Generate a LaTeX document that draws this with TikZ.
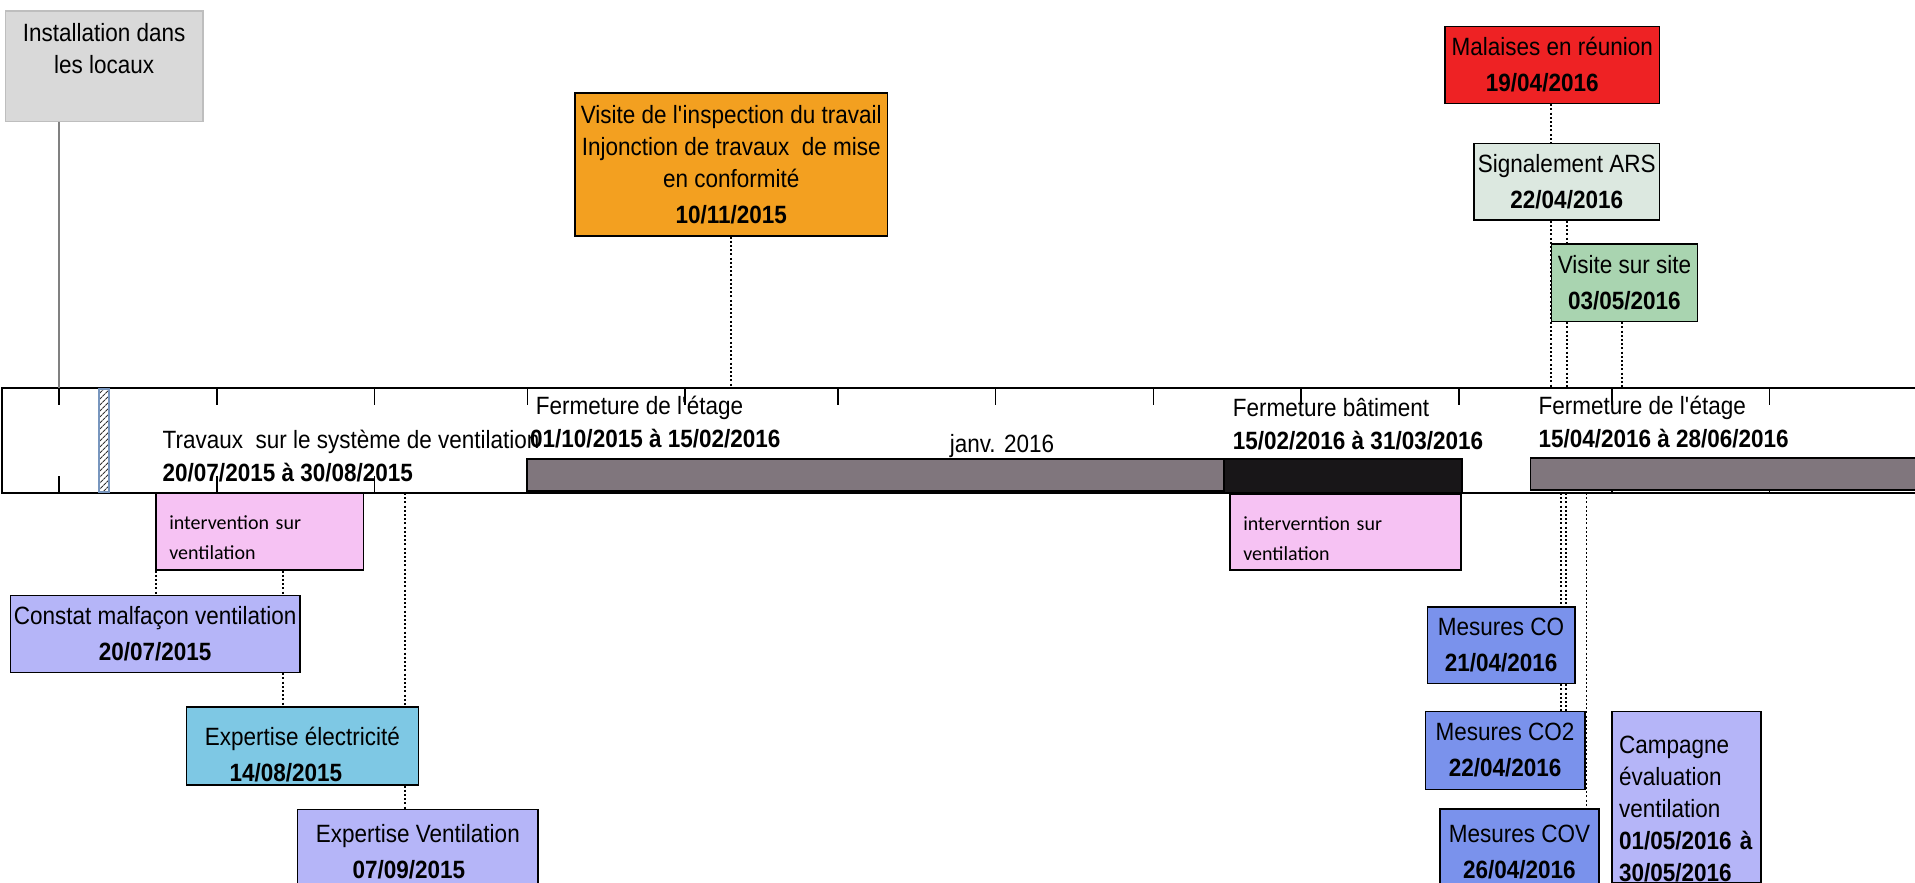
\documentclass[tikz,border=0pt]{standalone}
\usepackage{fontspec}
\setmainfont[FakeStretch=0.9]{Liberation Sans}
\newfontfamily\calib{Carlito}
\usetikzlibrary{patterns.meta}
\definecolor{grisbox}{RGB}{217,217,217}
\definecolor{grisbord}{RGB}{190,190,190}
\definecolor{orange}{RGB}{243,160,32}
\definecolor{rouge}{RGB}{238,34,36}
\definecolor{ars}{RGB}{220,232,224}
\definecolor{vert}{RGB}{169,212,176}
\definecolor{rose}{RGB}{246,194,243}
\definecolor{lavande}{RGB}{181,181,248}
\definecolor{bleuciel}{RGB}{126,200,228}
\definecolor{mesure}{RGB}{122,146,236}
\definecolor{barre}{RGB}{128,118,125}
\definecolor{barnoire}{RGB}{24,22,24}
\definecolor{hachure}{RGB}{120,150,190}
\begin{document}
\begin{tikzpicture}[x=1pt, y=-1pt,
  every node/.style={font={\fontsize{25}{32}\selectfont}, inner sep=0pt},
  evt/.style={draw=black, line width=1.5pt, anchor=north west, align=center,
    execute at begin node={\rule{0pt}{27pt}}},
  pinkbox/.style={evt, fill=rose, align=left, inner xsep=13.5pt,
    font={\calib\fontsize{20}{30}\selectfont}},
  conn/.style={line width=1.6pt, dash pattern=on 2pt off 2.2pt},
  tick/.style={line width=1.5pt},
  bar/.style={draw=black, line width=1.5pt, fill=barre},
  lbl/.style={anchor=base west}]
\useasboundingbox (0,0) rectangle (1915,883);
\clip (0,0) rectangle (1915,883);

\draw[line width=2pt] (1917,388) -- (1.5,388) -- (1.5,493) -- (1917,493);
\foreach \mx in {59,216.8,374.6,527.4,685,837.9,995.7,1153.5,1301,1459,1611.8,1769.6} {
  \draw[tick] (\mx,388) -- (\mx,405) (\mx,476) -- (\mx,493);
}
\draw[draw=hachure, line width=1.2pt, pattern color=black!80, pattern={Lines[angle=45, distance=4pt, line width=1.1pt]}] (99,389) rectangle (109,492);
\draw[bar] (527,459) rectangle (1224,491);
\draw[bar, fill=barnoire] (1224,459) rectangle (1462,493);
\draw[bar] (1530.7,458) rectangle (1925,490);

\node[lbl] (trv) at (162.5,448) {Travaux\ \ sur le système de ventilation};
\node[lbl] (trvdate) at (162.5,481) {\textbf{20/07/2015 à 30/08/2015}};
\node[lbl] (ferm1) at (535.7,414) {Fermeture de l\textquotesingle étage};
\node[lbl] (ferm1date) at (530,447) {\textbf{01/10/2015 à 15/02/2016}};
\node[anchor=base] (janv) at (1002,452) {janv. 2016};
\node[lbl] (ferm2) at (1232.7,416) {Fermeture bâtiment};
\node[lbl] (ferm2date) at (1232.7,449) {\textbf{15/02/2016 à 31/03/2016}};
\node[lbl] (ferm3) at (1538.3,414) {Fermeture de l\textquotesingle étage};
\node[lbl] (ferm3date) at (1538.3,447) {\textbf{15/04/2016 à 28/06/2016}};

\node[evt, fill=grisbox, draw=grisbord, minimum width=197.3pt, minimum height=110.4pt] (install) at (4.7,10.3) {Installation dans\\les locaux\rule[-36pt]{0pt}{36pt}};
\node[evt, fill=orange, minimum width=312.4pt, minimum height=142.7pt] (insp) at (574.3,92.3) {Visite de l\textquotesingle inspection du travail\\Injonction de travaux\ \ de mise\\en conformité\\[4pt]\textbf{10/11/2015}};
\node[evt, fill=rouge, minimum width=214.4pt, minimum height=77pt] (malaise) at (1444.3,25.7) {Malaises en réunion\\[4pt]\hspace*{-20pt}\textbf{19/04/2016}};
\node[evt, fill=ars, minimum width=185.4pt, minimum height=76.6pt] (ars) at (1473.3,142.7) {Signalement ARS\\[4pt]\textbf{22/04/2016}};
\node[evt, fill=vert, minimum width=146pt, minimum height=77.4pt] (site) at (1550.7,243.3) {Visite sur site\\[4pt]\textbf{03/05/2016}};

\node[pinkbox, text width=180.7pt, minimum width=207.7pt, minimum height=77pt] (interv1) at (155,492) {intervention sur\\ventilation};
\node[pinkbox, text width=204pt, minimum width=231pt, minimum height=76pt] (interv2) at (1229,493) {interverntion sur\\ventilation};
\node[evt, fill=lavande, minimum width=289.2pt, minimum height=76.9pt] (constat) at (9.8,594.8) {Constat malfaçon ventilation\\[4pt]\textbf{20/07/2015}};
\node[evt, fill=bleuciel, minimum width=232.1pt, minimum height=78pt] (expelec) at (185.6,706) {\rule{0pt}{36pt}Expertise électricité\\[4pt]\hspace*{-33pt}\textbf{14/08/2015}};
\node[evt, fill=lavande, minimum width=240.6pt, minimum height=85pt] (expvent) at (296.8,808.5) {Expertise Ventilation\\[4pt]\hspace*{-18pt}\textbf{07/09/2015}};
\node[evt, fill=mesure, minimum width=147.3pt, minimum height=76.7pt] (co) at (1426.7,606) {Mesures CO\\[4pt]\textbf{21/04/2016}};
\node[evt, fill=mesure, minimum width=159.3pt, minimum height=78pt] (co2) at (1424.7,710.7) {Mesures CO2\\[4pt]\textbf{22/04/2016}};
\node[evt, fill=mesure, minimum width=159.3pt, minimum height=85pt] (cov) at (1439,808.3) {Mesures COV\\[4pt]\textbf{26/04/2016}};
\node[evt, fill=lavande, align=left, text width=134.7pt, inner xsep=7pt, minimum height=171pt] (campagne) at (1611.3,710.7) {\rule{0pt}{41pt}Campagne\\évaluation\\ventilation\\\textbf{01/05/2016 à}\\\textbf{30/05/2016}};

\coordinate (inst) at (59,388);
\coordinate (t1110) at (731,388);
\coordinate (t0419) at (1550.7,388);
\coordinate (t0422) at (1566.7,388);
\coordinate (t0503) at (1622,388);
\coordinate (b0720) at (155.7,493);
\coordinate (b0814) at (283,493);
\coordinate (b0907) at (405,493);
\coordinate (b0421) at (1561,493);
\coordinate (b0422) at (1566,493);
\coordinate (b0426) at (1586.5,493);

\draw[line width=1.5pt, gray] (install.south -| inst) -- (inst);
\draw[conn] (insp.south -| t1110) -- (t1110);
\draw[conn] (malaise.south -| t0419) -- (ars.north -| t0419);
\draw[conn] (ars.south -| t0419) -- (t0419);
\draw[conn] (ars.south -| t0422) -- (site.north -| t0422);
\draw[conn] (site.south -| t0422) -- (t0422);
\draw[conn] (site.south -| t0503) -- (t0503);
\draw[conn] (interv1.south -| b0720) -- (constat.north -| b0720);
\draw[conn] (interv1.south -| b0814) -- (constat.north -| b0814);
\draw[conn] (constat.south -| b0814) -- (expelec.north -| b0814);
\draw[conn] (b0907) -- (expelec.north -| b0907);
\draw[conn] (expelec.south -| b0907) -- (expvent.north -| b0907);
\draw[conn] (b0421) -- (co.north -| b0421);
\draw[conn] (b0422) -- (co.north -| b0422);
\draw[conn] (co.south -| b0421) -- (co2.north -| b0421);
\draw[conn] (co.south -| b0422) -- (co2.north -| b0422);
\draw[conn] (b0426) -- (cov.north -| b0426);
\end{tikzpicture}
\end{document}
